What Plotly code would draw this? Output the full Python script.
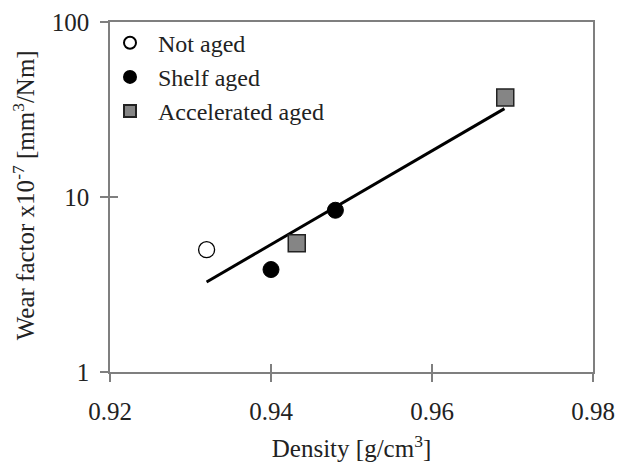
import plotly.graph_objects as go

# Data
not_aged_x = [0.932]
not_aged_y = [5.0]
shelf_x = [0.940, 0.948]
shelf_y = [3.85, 8.4]
accel_x = [0.9432, 0.9691]
accel_y = [5.45, 37.0]
trend_x = [0.932, 0.969]
trend_y = [3.27, 32.0]

x_ticks = [0.92, 0.94, 0.96, 0.98]
x_ticklabels = ["0.92", "0.94", "0.96", "0.98"]
y_ticks = [1, 10, 100]
y_ticklabels = ["1", "10", "100"]

FONT = "Liberation Serif"
FS = 25
AXC = "#7f7f7f"
TXT = "#222222"
PAD = "\u00a0\u200a"

fig = go.Figure()
fig.add_trace(go.Scatter(x=trend_x, y=trend_y, mode="lines",
                         line=dict(color="black", width=3), showlegend=False))
fig.add_trace(go.Scatter(x=not_aged_x, y=not_aged_y, mode="markers", name=PAD + "Not aged",
                         marker=dict(symbol="circle", size=16, color="white",
                                     line=dict(color="black", width=1.3))))
fig.add_trace(go.Scatter(x=shelf_x, y=shelf_y, mode="markers", name=PAD + "Shelf aged",
                         marker=dict(symbol="circle", size=16, color="black",
                                     line=dict(color="black", width=1))))
fig.add_trace(go.Scatter(x=accel_x, y=accel_y, mode="markers", name=PAD + "Accelerated aged",
                         marker=dict(symbol="square", size=17, color="#858585",
                                     line=dict(color="#222222", width=1.5))))

fig.update_layout(
    width=625, height=468,
    margin=dict(l=110, r=32, t=22, b=96),
    paper_bgcolor="white", plot_bgcolor="white",
    font=dict(family=FONT, size=FS, color=TXT),
    legend=dict(x=0.0, y=1.004, xanchor="left", yanchor="top",
                bgcolor="rgba(0,0,0,0)", font=dict(family=FONT, size=24, color=TXT),
                itemsizing="constant", tracegroupgap=0),
    xaxis=dict(range=[0.92, 0.98], tickvals=x_ticks, ticktext=x_ticklabels, automargin=False,
               showgrid=False, zeroline=False, showline=True, linecolor=AXC, linewidth=1.5,
               mirror=True, ticks="outside", ticklen=8, tickcolor=AXC, tickwidth=1.5,
               ticklabelstandoff=8, tickfont=dict(family=FONT, size=FS, color=TXT),
               title=dict(text="Density [g/cm<sup>3</sup>]", standoff=16,
                          font=dict(family=FONT, size=FS, color=TXT))),
    yaxis=dict(type="log", range=[0, 2], tickvals=y_ticks, ticktext=y_ticklabels, automargin=False,
               showgrid=False, zeroline=False, showline=True, linecolor=AXC, linewidth=1.5,
               mirror=True, ticks="outside", ticklen=8, tickcolor=AXC, tickwidth=1.5,
               ticklabelstandoff=6, tickfont=dict(family=FONT, size=FS, color=TXT)),
    xaxis2=dict(overlaying="x", range=[0.92, 0.98], tickvals=x_ticks, showticklabels=False,
                showgrid=False, zeroline=False, ticks="inside", ticklen=8, tickcolor=AXC,
                tickwidth=1.5, side="bottom", anchor="y", automargin=False),
    yaxis2=dict(overlaying="y", type="log", range=[0, 2], tickvals=y_ticks, showticklabels=False,
                showgrid=False, zeroline=False, ticks="inside", ticklen=8, tickcolor=AXC,
                tickwidth=1.5, side="left", anchor="x", automargin=False),
)
# y-axis title
fig.add_annotation(text="Wear factor x10<sup>-7</sup> [mm<sup>3</sup>/Nm]",
                   xref="paper", yref="paper", x=-0.178, y=0.505,
                   xanchor="center", yanchor="middle", textangle=-90, showarrow=False,
                   font=dict(family=FONT, size=FS, color=TXT))
# invisible trace to activate the overlaid axes (inner half of crossing ticks)
fig.add_trace(go.Scatter(x=[0.95], y=[10], xaxis="x2", yaxis="y2", mode="markers",
                         marker=dict(opacity=0), showlegend=False, hoverinfo="skip"))

fig.write_html("out.html")
